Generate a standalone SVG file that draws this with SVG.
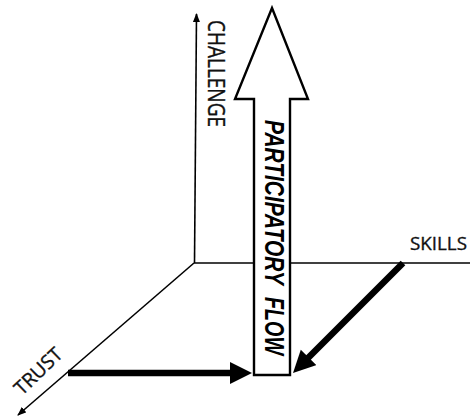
<svg xmlns="http://www.w3.org/2000/svg" width="470" height="418" viewBox="0 0 470 418">
<style>
.axis{stroke:#000;stroke-width:1.6;fill:none}
.thick{stroke:#000;stroke-width:6.5;fill:none}
.lbl{font-family:"Open Sans","Liberation Sans",sans-serif;fill:#111;stroke:#111;stroke-width:0.35}
.flow{font-family:"Liberation Sans",Arial,sans-serif;font-weight:bold;font-style:italic;fill:#000}
</style>
<defs>
<marker id="small" markerUnits="userSpaceOnUse" markerWidth="10" markerHeight="8" refX="8" refY="4" orient="auto">
<path d="M0,0.5 L9,4 L0,7.5 z" fill="#000"/>
</marker>
<marker id="big" markerUnits="userSpaceOnUse" markerWidth="24" markerHeight="24" refX="10" refY="11" orient="auto">
<path d="M0,0 L22,11 L0,22 z" fill="#000"/>
</marker>
</defs>
<g id="connectors">
<line class="axis" x1="194.5" y1="263" x2="196.5" y2="14" marker-end="url(#small)"/>
<line class="axis" x1="194" y1="263" x2="470" y2="263"/>
<line class="axis" x1="194" y1="263" x2="18" y2="415" marker-end="url(#small)"/>
<line class="thick" x1="68" y1="373" x2="240" y2="373" marker-end="url(#big)"/>
<line class="thick" x1="403" y1="263" x2="301.5" y2="364.5" marker-end="url(#big)"/>
</g>
<g id="participatory-flow">
<polygon points="272,8 308,99 290,99 290,375 254,375 254,99 235,99" fill="#fff" stroke="#000" stroke-width="2.4" stroke-linejoin="miter"/>
<text class="flow" font-size="27" transform="translate(265,120) rotate(90)" textLength="165" lengthAdjust="spacingAndGlyphs">PARTICIPATORY</text>
<text class="flow" font-size="27" transform="translate(265,297) rotate(90)" textLength="58" lengthAdjust="spacingAndGlyphs">FLOW</text>
</g>
<g id="challenge">
<text class="lbl" font-size="23" transform="translate(208,20) rotate(90)" textLength="107" lengthAdjust="spacingAndGlyphs">CHALLENGE</text>
</g>
<g id="skills">
<text class="lbl" x="410" y="250" font-size="19" textLength="57" lengthAdjust="spacingAndGlyphs">SKILLS</text>
</g>
<g id="trust">
<text class="lbl" font-size="19.5" text-anchor="middle" transform="translate(43,376) rotate(-44)">TRUST</text>
</g>
</svg>
